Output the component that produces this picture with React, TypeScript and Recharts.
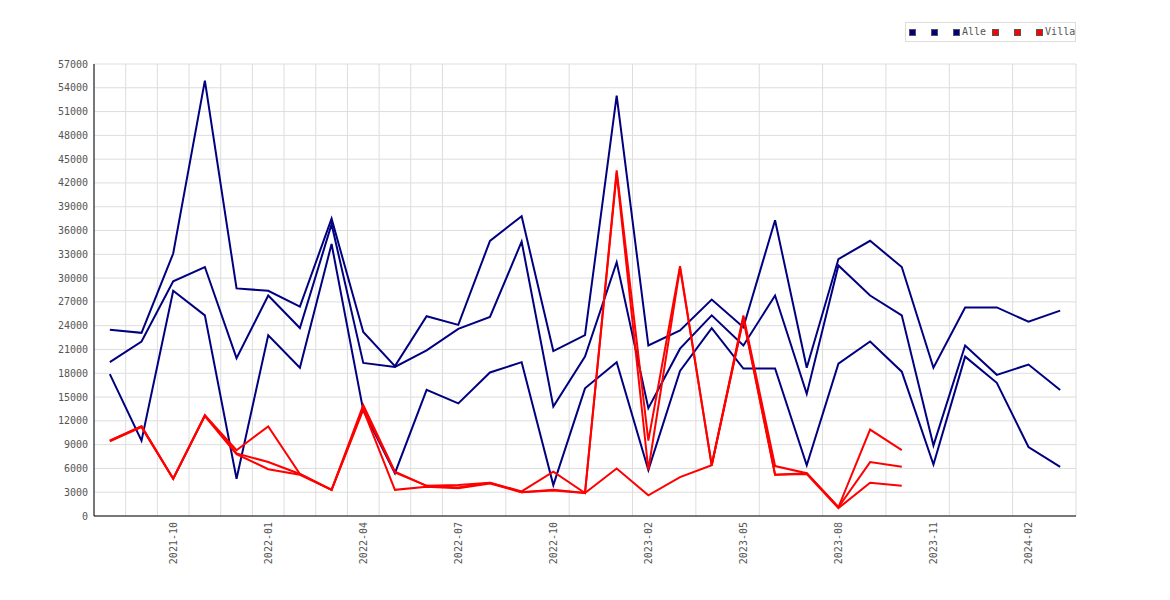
import React from "react";
import { CartesianGrid, Line, LineChart, XAxis, YAxis } from "recharts";

// months on the x axis (one month is missing in the source between 2022-10 and 2023-02)
const months = [
  "2021-08", "2021-09", "2021-10", "2021-11", "2021-12", "2022-01", "2022-02", "2022-03",
  "2022-04", "2022-05", "2022-06", "2022-07", "2022-08", "2022-09", "2022-10", "2022-11",
  "2022-12", "2023-02", "2023-03", "2023-04", "2023-05", "2023-06", "2023-07", "2023-08",
  "2023-09", "2023-10", "2023-11", "2023-12", "2024-01", "2024-02", "2024-03",
];

// which month indexes carry a label
const labelledMonths = [2, 5, 8, 11, 14, 17, 20, 23, 26, 29];

const yTicks = [
  0, 3000, 6000, 9000, 12000, 15000, 18000, 21000, 24000, 27000, 30000, 33000, 36000, 39000,
  42000, 45000, 48000, 51000, 54000, 57000,
];

const alleHigh = [
  23500, 23100, 33100, 54900, 28700, 28400, 26400, 37500, 23200, 18900, 25200, 24100, 34700, 37800,
  20800, 22800, 53000, 21500, 23400, 27300, 23800, 37300, 18700, 32400, 34700, 31400, 18700, 26300,
  26300, 24500, 25900,
];
const alleMid = [
  19400, 22000, 29600, 31400, 19900, 27800, 23700, 36800, 19300, 18800, 20900, 23600, 25100, 34600,
  13800, 20100, 32000, 13600, 21100, 25300, 21500, 27800, 15400, 31600, 27800, 25300, 8900, 21500,
  17800, 19100, 15900,
];
const alleLow = [
  17900, 9500, 28400, 25300, 4700, 22800, 18700, 34300, 13300, 5400, 15900, 14200, 18100, 19400,
  3900, 16100, 19400, 5800, 18300, 23700, 18600, 18600, 6400, 19200, 22000, 18200, 6500, 20100,
  16800, 8700, 6200,
];

const villaHigh = [
  9500, 11300, 4700, 12700, 8300, 11300, 5300, 3300, 14000, 5600, 3800, 3900, 4200, 3100,
  5600, 2900, 43600, 9500, 31500, 6400, 25300, 6300, 5400, 1100, 10900, 8300,
];
const villaMid = [
  9500, 11300, 4700, 12700, 7900, 6800, 5300, 3300, 13600, 5500, 3800, 3600, 4200, 3000,
  3300, 2900, 43200, 5800, 31300, 6400, 25000, 5200, 5400, 1100, 6800, 6200,
];
const villaLow = [
  9400, 11200, 4700, 12600, 7800, 5900, 5200, 3300, 13400, 3300, 3700, 3500, 4100, 3000,
  3200, 2900, 6000, 2600, 4900, 6400, 24800, 5200, 5300, 1000, 4200, 3800,
];

const seriesKeys = ["a1", "a2", "a3", "v1", "v2", "v3"];
const seriesValues = [alleHigh, alleMid, alleLow, villaHigh, villaMid, villaLow];
const seriesColors = ["#000080", "#000080", "#000080", "#ff0000", "#ff0000", "#ff0000"];
const legendLabels = ["", "", "Alle", "", "", "Villa"];

const data = months.map((month, i) => {
  const row: Record<string, number | string | null> = { idx: i, month };
  seriesKeys.forEach((key, s) => {
    const v = seriesValues[s][i];
    row[key] = v === undefined ? null : v;
  });
  return row;
});

const gridTicks = months.map((_, i) => i + 0.5);

const FONT = "'DejaVu Sans Mono', monospace";

function MonthTick({ x, y, payload }: any) {
  return (
    <text
      x={x}
      y={y}
      transform={`rotate(-90, ${x}, ${y})`}
      textAnchor="end"
      dy="0.35em"
      fontSize={10}
      fontFamily={FONT}
      fill="#555"
    >
      {months[payload.value]}
    </text>
  );
}

export default function App() {
  return (
    <div style={{ position: "relative", width: 1162, height: 592 }}>
      <LineChart
        width={1162}
        height={592}
        data={data}
        margin={{ top: 56, right: 94, bottom: 24, left: 26 }}
      >
        <CartesianGrid xAxisId="grid" stroke="#dddddd" strokeWidth={1} />
        <XAxis
          xAxisId="grid"
          dataKey="idx"
          type="number"
          domain={[-0.5, 30.5]}
          ticks={gridTicks}
          hide
        />
        <XAxis
          dataKey="idx"
          type="number"
          domain={[-0.5, 30.5]}
          ticks={labelledMonths}
          interval={0}
          height={60}
          tickLine={false}
          tickSize={4}
          tickMargin={2}
          axisLine={{ stroke: "#000", strokeWidth: 1 }}
          tick={<MonthTick />}
        />
        <YAxis
          domain={[0, 57000]}
          ticks={yTicks}
          interval={0}
          width={60}
          tickLine={false}
          tickSize={4}
          tickMargin={2}
          axisLine={{ stroke: "#000", strokeWidth: 1 }}
          tick={{ fontSize: 10, fill: "#555", fontFamily: FONT }}
        />
        {seriesKeys.map((key, s) => (
          <Line
            key={key}
            dataKey={key}
            stroke={seriesColors[s]}
            strokeWidth={2}
            dot={false}
            activeDot={false}
            isAnimationActive={false}
            connectNulls={false}
          />
        ))}
      </LineChart>

      <div
        style={{
          position: "absolute",
          left: 897,
          top: 14,
          width: 171,
          height: 20,
          boxSizing: "border-box",
          border: "1px solid #dddddd",
          background: "#fff",
          display: "flex",
          alignItems: "center",
          paddingLeft: 3,
          fontFamily: FONT,
          fontSize: 10,
          color: "#555",
        }}
      >
        {legendLabels.map((label, s) => (
          <div
            key={s}
            style={{
              display: "flex",
              alignItems: "center",
              minWidth: label ? undefined : 22,
              marginRight: label ? 6 : 0,
            }}
          >
            <span
              style={{
                width: 7,
                height: 7,
                boxSizing: "border-box",
                border: "1px solid #555",
                background: seriesColors[s],
                display: "inline-block",
              }}
            />
            {label && <span style={{ marginLeft: 2, lineHeight: "10px" }}>{label}</span>}
          </div>
        ))}
      </div>
    </div>
  );
}
